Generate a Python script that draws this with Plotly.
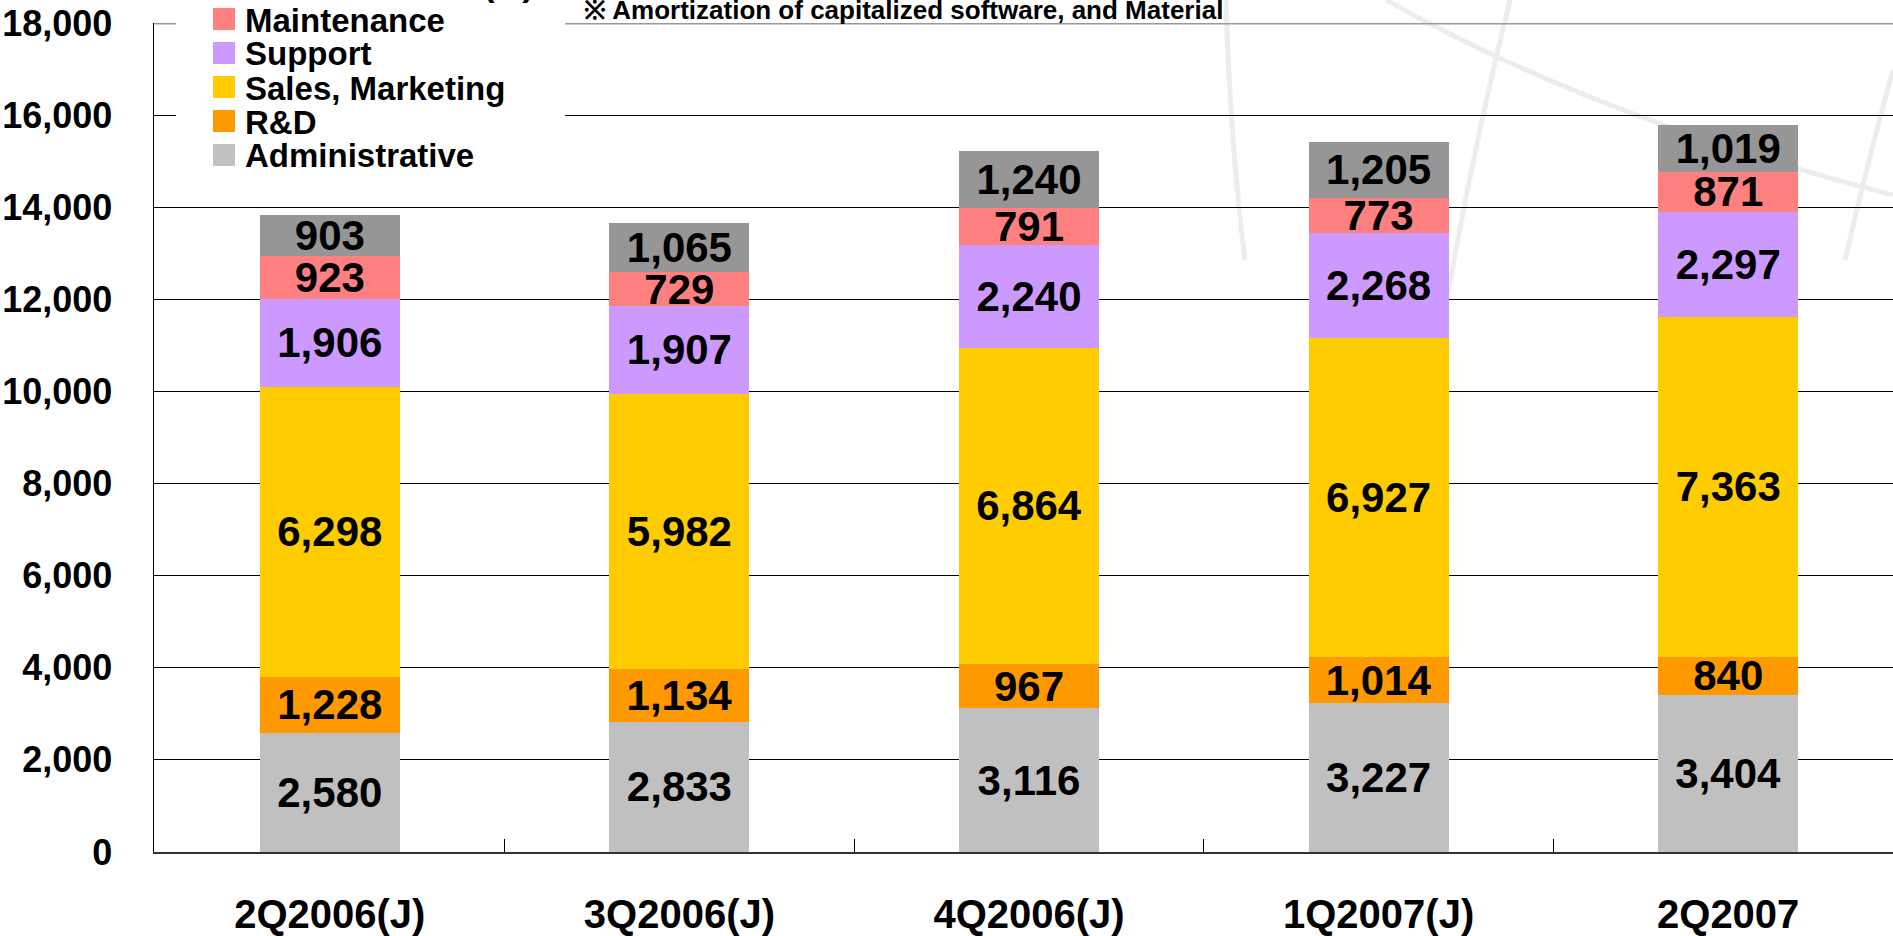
import plotly.graph_objects as go

# ---------------- data ----------------
categories = ["2Q2006(J)", "3Q2006(J)", "4Q2006(J)", "1Q2007(J)", "2Q2007"]
administrative = [2580, 2833, 3116, 3227, 3404]
rnd = [1228, 1134, 967, 1014, 840]
sales_marketing = [6298, 5982, 6864, 6927, 7363]
support = [1906, 1907, 2240, 2268, 2297]
maintenance = [923, 729, 791, 773, 871]
others = [903, 1065, 1240, 1205, 1019]

series_names = ["Administrative", "R&D", "Sales, Marketing", "Support", "Maintenance", "Others (※)"]
series_values = [administrative, rnd, sales_marketing, support, maintenance, others]
series_colors = ["#C0C0C0", "#FF9900", "#FFCC00", "#CC99FF", "#FF8080", "#969696"]
note_text = "※ Amortization of capitalized software, and Material"
y_max = 18000
y_step = 2000

# ---------------- geometry (page pixels -> paper) ----------------
W, H = 1893, 936
AX_L, AX_T, AX_B = 154, 23, 852  # plot area edges in page pixels
ML, MT, MB, MR = AX_L, AX_T, H - AX_B, 0
PW, PH = W - ML - MR, H - MT - MB
CAT_PX = 350.0


def px(x):
    return (x - ML) / PW


def py(y):
    return (H - MB - y) / PH


FONT = "Liberation Sans, Arial, Helvetica, sans-serif"

fig = go.Figure()
for name, vals, col in zip(series_names, series_values, series_colors):
    fig.add_trace(go.Bar(
        x=categories, y=vals, name=name,
        marker=dict(color=col, line=dict(width=0)),
        texttemplate="%{y:,}", textposition="inside",
        insidetextanchor="middle", textangle=0, constraintext="none",
        textfont=dict(family=FONT, size=42, color="black", weight="bold"),
        insidetextfont=dict(family=FONT, size=42, color="black", weight="bold"),
        showlegend=False, cliponaxis=False, hoverinfo="skip",
    ))

shapes = []
# faint background decoration arcs
arc_style = dict(type="path", xref="paper", yref="paper", layer="below",
                 line=dict(color="#ededed", width=5))
arcs = [
    [(1386, 0), (1600, 120), (1893, 195)],
    [(1510, 0), (1470, 160), (1440, 340)],
    [(1226, 0), (1230, 140), (1245, 260)],
    [(1893, 70), (1868, 160), (1845, 260)],
]
for (a, b, c) in arcs:
    shapes.append(dict(path=f"M {px(a[0])},{py(a[1])} Q {px(b[0])},{py(b[1])} {px(c[0])},{py(c[1])}", **arc_style))

# gray top border at 18,000
shapes.append(dict(type="line", xref="paper", yref="y", x0=0, x1=1, y0=y_max, y1=y_max,
                   line=dict(color="#999999", width=3), layer="above"))
# white legend box
shapes.append(dict(type="rect", xref="paper", yref="paper", x0=px(176), x1=px(565), y0=py(172), y1=py(-5),
                   fillcolor="white", line=dict(width=0), layer="above"))

annotations = []
# custom legend (top to bottom: reverse of stacking order)
leg_y = [-17, 19, 53, 87, 121, 155]
for i, (name, col) in enumerate(zip(series_names[::-1], series_colors[::-1])):
    yc = leg_y[i]
    shapes.append(dict(type="rect", xref="paper", yref="paper",
                       x0=px(213), x1=px(235), y0=py(yc + 11), y1=py(yc - 11),
                       fillcolor=col, line=dict(width=0), layer="above"))
    if i == 0:
        ann = dict(x=px(536), xanchor="right")
    else:
        ann = dict(x=px(243), xanchor="left")
    annotations.append(dict(xref="paper", yref="paper", y=py(yc + 1),
                            yanchor="middle", showarrow=False, text=name,
                            font=dict(family=FONT, size=33, color="black", weight="bold"), **ann))

annotations.append(dict(xref="paper", yref="paper", x=px(582), y=py(27),
                        xanchor="left", yanchor="bottom", showarrow=False, text=note_text,
                        font=dict(family=FONT, size=26, color="black", weight="bold")))

fig.update_layout(
    template="none",
    width=W, height=H,
    margin=dict(l=ML, r=MR, t=MT, b=MB, pad=0, autoexpand=False),
    paper_bgcolor="white", plot_bgcolor="rgba(0,0,0,0)",
    barmode="stack", bargap=0.6,
    font=dict(family=FONT, color="black"),
    shapes=shapes, annotations=annotations,
    showlegend=False,
)
fig.update_xaxes(
    type="category", range=[-0.5 - (AX_L - 153) / CAT_PX, -0.5 + (W - 153) / CAT_PX], automargin=False,
    showline=True, linecolor="#333333", linewidth=2,
    ticks="inside", tickson="boundaries", ticklen=13, tickcolor="black", tickwidth=1,
    showgrid=False, zeroline=False, ticklabelstandoff=26,
    tickfont=dict(family=FONT, size=40, color="black", weight="bold"),
)
fig.update_yaxes(
    range=[0, y_max], dtick=y_step, tick0=0, tickformat=",", automargin=False,
    showgrid=True, gridcolor="black", gridwidth=1,
    showline=True, linecolor="black", linewidth=1.5,
    ticks="", zeroline=False, ticklabelstandoff=33, ticklabeloverflow="allow",
    tickfont=dict(family=FONT, size=36, color="black", weight="bold"),
)

# remove the default page margin so the figure sits at the window's top-left corner
fig.write_html("out.html", config={"displayModeBar": False, "staticPlot": True},
               post_script="document.body.style.margin='0px';document.body.style.overflow='hidden';")
